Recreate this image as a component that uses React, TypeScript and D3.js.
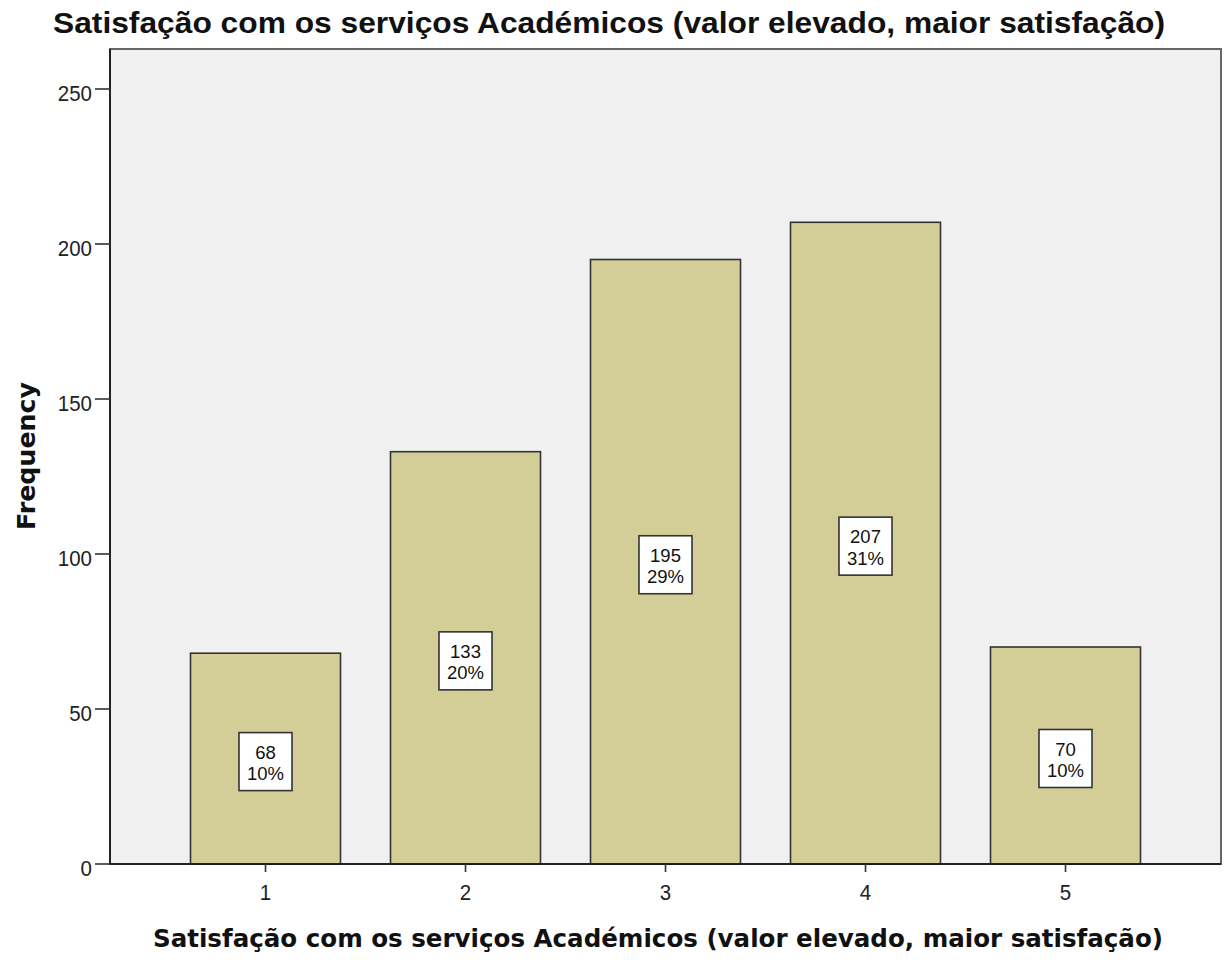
import React from 'react';
import * as d3 from 'd3';

// chart data
const categories = ['1', '2', '3', '4', '5'];
const frequencies = [68, 133, 195, 207, 70];
const percentLabels = ['10%', '20%', '29%', '31%', '10%'];
const yTicks = [0, 50, 100, 150, 200, 250];

const titleText = 'Satisfação com os serviços Académicos (valor elevado, maior satisfação)';

const W = 1230;
const H = 961;
const plot = { left: 110, right: 1221, top: 49, bottom: 864 };
const font = 'Arial, "Liberation Sans", sans-serif';
const wideFont = '"DejaVu Sans", Verdana, sans-serif';

export default function App()
{
	const x = d3.scaleBand<string>()
		.domain(categories)
		.range([plot.left, plot.right])
		.paddingInner(0.25)
		.paddingOuter(0.4025);

	const y = d3.scaleLinear()
		.domain([0, 250])
		.range([plot.bottom, plot.bottom - 775]);

	const boxW = 53;
	const boxH = 58;

	return (
		<svg width={W} height={H} style={{ position: 'absolute', left: 0, top: 0, fontFamily: font }}>
			<rect x={0} y={0} width={W} height={H} fill="#ffffff" />
			<text x={53} y={33} fontSize={30} fontWeight="bold" fill="#111"
				textLength={1112} lengthAdjust="spacingAndGlyphs">{titleText}</text>

			{/* plot background */}
			<rect x={plot.left} y={plot.top} width={plot.right - plot.left} height={plot.bottom - plot.top}
				fill="#f0f0f0" stroke="#666" strokeWidth={2} />

			{/* bars */}
			{frequencies.map((v, i) =>
			{
				const bx = x(categories[i]) as number;
				return (
					<rect key={'b' + i} x={bx} y={y(v)} width={x.bandwidth()} height={plot.bottom - y(v)}
						fill="#d3ce97" stroke="#333" strokeWidth={1.6} />
				);
			})}

			{/* value boxes */}
			{frequencies.map((v, i) =>
			{
				const cx = (x(categories[i]) as number) + x.bandwidth() / 2;
				const cy = y(v / 2) + 3;
				return (
					<g key={'l' + i}>
						<rect x={cx - boxW / 2} y={cy - boxH / 2} width={boxW} height={boxH}
							fill="#ffffff" stroke="#333" strokeWidth={1.6} />
						<text x={cx} y={cy - 3} textAnchor="middle" fontSize={18.5} fill="#111">{v}</text>
						<text x={cx} y={cy + 18.5} textAnchor="middle" fontSize={18.5} fill="#111">{percentLabels[i]}</text>
					</g>
				);
			})}

			{/* axes lines */}
			<line x1={plot.left} x2={plot.left} y1={plot.top} y2={plot.bottom} stroke="#111" strokeWidth={1.6} />
			<line x1={plot.left} x2={plot.right} y1={plot.bottom} y2={plot.bottom} stroke="#111" strokeWidth={1.6} />

			{/* y ticks */}
			{yTicks.map(t => (
				<g key={'y' + t}>
					<line x1={plot.left - 15} x2={plot.left} y1={y(t)} y2={y(t)} stroke="#333" strokeWidth={1.6} />
					<text transform={'translate(' + (plot.left - 18) + ',' + (y(t) + 11.5) + ') scale(1,1.1)'} textAnchor="end" fontSize={20.5} fill="#222">{t}</text>
				</g>
			))}

			{/* x ticks */}
			{categories.map(c =>
			{
				const cx = (x(c) as number) + x.bandwidth() / 2;
				return (
					<g key={'x' + c}>
						<line x1={cx} x2={cx} y1={plot.bottom} y2={plot.bottom + 8} stroke="#333" strokeWidth={1.6} />
						<text transform={'translate(' + cx + ',' + (plot.bottom + 36) + ') scale(1,1.1)'} textAnchor="middle" fontSize={20.5} fill="#222">{c}</text>
					</g>
				);
			})}

			<text x={153} y={947} fontSize={24} fontWeight="bold" fill="#111" fontFamily={wideFont}
				textLength={1010} lengthAdjust="spacingAndGlyphs">{titleText}</text>
			<text transform={'translate(35,' + 530 + ') rotate(-90)'} fontSize={25} fontWeight="bold" fill="#111" fontFamily={wideFont}
				textLength={148} lengthAdjust="spacingAndGlyphs">Frequency</text>
		</svg>
	);
}
